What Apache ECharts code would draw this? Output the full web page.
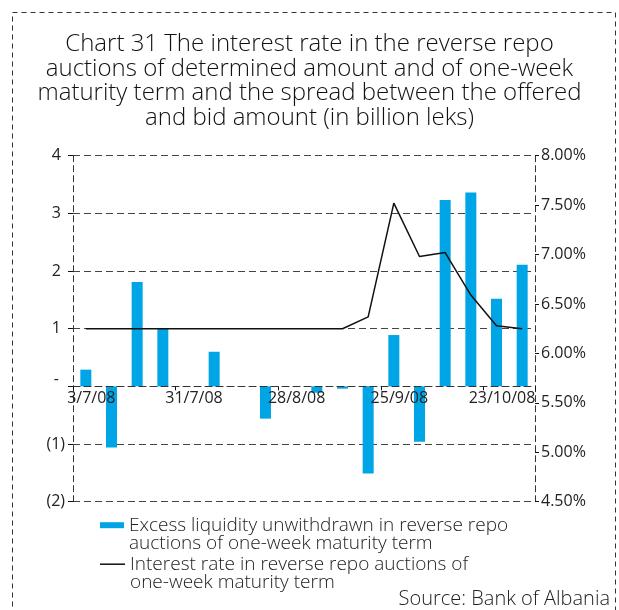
<!DOCTYPE html>
<html>
<head>
<meta charset="utf-8">
<script src="https://cdn.jsdelivr.net/npm/echarts@6/dist/echarts.min.js"></script>
<style>
  html, body { margin: 0; padding: 0; background: #fff; }
  #chart { width: 619px; height: 610px; }
</style>
</head>
<body>
<div id="chart"></div>
<script>
// Weekly auction dates (d/m/yy)
const dates = ['3/7/08', '10/7/08', '17/7/08', '24/7/08', '31/7/08', '7/8/08', '14/8/08',
  '21/8/08', '28/8/08', '4/9/08', '11/9/08', '18/9/08', '25/9/08', '2/10/08', '9/10/08',
  '16/10/08', '23/10/08', '30/10/08'];

// Excess liquidity unwithdrawn, billion leks
const excessLiquidity = [0.29, -1.06, 1.81, 1.00, 0, 0.60, 0, -0.56, 0, -0.11, -0.04,
  -1.51, 0.89, -0.96, 3.23, 3.36, 1.52, 2.11];

// Interest rate in the one-week reverse repo auctions, percent
const repoRate = [6.25, 6.25, 6.25, 6.25, 6.25, 6.25, 6.25, 6.25, 6.25, 6.25, 6.25,
  6.37, 7.52, 6.98, 7.02, 6.59, 6.28, 6.25];

const leftTicks = { min: -2, max: 4, step: 1 };
const rightTicks = { min: 4.5, max: 8, step: 0.5 };

const nameBars = 'Excess liquidity unwithdrawn in reverse repo auctions of one-week maturity term';
const nameLine = 'Interest rate in reverse repo auctions of one-week maturity term';

const FONT = 'Open Sans';
const INK = '#222';
const GRID_DASH = [7, 4];

// Plot box
const GRID = { left: 73, right: 84, top: 155.7, bottom: 108.3 };
const plotHeight = 610 - GRID.top - GRID.bottom;
// The category axis sits on the zero line of the left value axis
const zeroFromBottom = plotHeight * (0 - leftTicks.min) / (leftTicks.max - leftTicks.min);

const chart = echarts.init(document.getElementById('chart'), null, { renderer: 'canvas' });

chart.setOption({
  animation: false,
  backgroundColor: '#fff',
  textStyle: { fontFamily: FONT },
  title: [
    {
      text: 'Chart 31 The interest rate in the reverse repo\nauctions of determined amount and of one-week\nmaturity term and the spread between the offered\nand bid amount (in billion leks)',
      left: 'center',
      top: 32,
      padding: 0,
      textStyle: { fontFamily: FONT, fontSize: 24, fontWeight: 300, lineHeight: 24.5, color: '#111' }
    },
    {
      text: 'Source: Bank of Albania',
      right: 9,
      top: 589,
      padding: 0,
      textStyle: { fontFamily: FONT, fontSize: 20, fontWeight: 300, color: INK }
    }
  ],
  legend: [
    {
      data: [{ name: nameBars, icon: 'rect' }],
      left: 100,
      top: 497,
      padding: 0,
      itemWidth: 24,
      itemHeight: 6,
      selectedMode: false,
      formatter: () => '\nExcess liquidity unwithdrawn in reverse repo\nauctions of one-week maturity term',
      textStyle: { fontFamily: FONT, fontSize: 19, fontWeight: 300, lineHeight: 18.7, color: INK }
    },
    {
      data: [{ name: nameLine, icon: 'rect' }],
      left: 100,
      top: 536,
      padding: 0,
      itemWidth: 25,
      itemHeight: 1.5,
      selectedMode: false,
      formatter: () => '\nInterest rate in reverse repo auctions of\none-week maturity term',
      textStyle: { fontFamily: FONT, fontSize: 19, fontWeight: 300, lineHeight: 18.7, color: INK }
    }
  ],
  grid: { left: GRID.left, right: GRID.right, top: GRID.top, bottom: GRID.bottom, containLabel: false },
  xAxis: {
    type: 'category',
    data: dates,
    boundaryGap: true,
    position: 'bottom',
    offset: -zeroFromBottom,
    z: 5,
    axisLine: { onZero: false, lineStyle: { color: '#333', type: GRID_DASH, width: 1 } },
    axisTick: { show: true, interval: 3, length: 4, alignWithLabel: false, lineStyle: { color: '#111' } },
    axisLabel: {
      interval: 3,
      margin: 4,
      color: INK,
      fontFamily: FONT,
      fontSize: 16,
      padding: [0, 0, 0, 11]
    },
    splitLine: { show: false }
  },
  yAxis: [
    {
      type: 'value',
      min: leftTicks.min,
      max: leftTicks.max,
      interval: leftTicks.step,
      axisLine: { show: true, lineStyle: { color: '#333', type: [6, 4], width: 1 } },
      axisTick: { show: true, length: 5, lineStyle: { color: '#111' } },
      splitLine: { show: true, lineStyle: { color: '#444', type: GRID_DASH, width: 1 } },
      axisLabel: {
        margin: 8,
        color: INK,
        fontFamily: FONT,
        fontSize: 16,
        formatter: v => v === 0 ? '{z|-}' : (v < 0 ? '{n|(' + (-v) + ')}' : '{p|' + v + '}'),
        rich: {
          p: { fontFamily: FONT, fontSize: 16, color: INK, padding: [0, 4, 0, 0] },
          n: { fontFamily: FONT, fontSize: 16, color: INK },
          z: { fontFamily: FONT, fontSize: 16, color: INK, padding: [0, 6, 14, 0] }
        }
      }
    },
    {
      type: 'value',
      position: 'right',
      min: rightTicks.min,
      max: rightTicks.max,
      interval: rightTicks.step,
      axisLine: { show: true, lineStyle: { color: '#333', type: [6, 4], width: 1 } },
      axisTick: { show: true, length: 4, lineStyle: { color: '#111' } },
      splitLine: { show: false },
      axisLabel: {
        margin: 6,
        color: INK,
        fontFamily: FONT,
        fontSize: 16,
        formatter: v => v.toFixed(2) + '%'
      }
    }
  ],
  series: [
    {
      name: nameBars,
      type: 'bar',
      yAxisIndex: 0,
      data: excessLiquidity,
      barWidth: 11,
      itemStyle: { color: '#00a5e6' }
    },
    {
      name: nameLine,
      type: 'line',
      yAxisIndex: 1,
      data: repoRate,
      showSymbol: false,
      symbol: 'none',
      lineStyle: { color: '#111', width: 1.5 },
      itemStyle: { color: '#111' },
      z: 3
    }
  ],
  graphic: [
    {
      type: 'rect',
      silent: true,
      shape: { x: 12.5, y: 12.5, width: 603, height: 630 },
      style: { fill: 'none', stroke: '#333', lineWidth: 1, lineDash: [5, 4] }
    }
  ]
});
</script>
</body>
</html>
